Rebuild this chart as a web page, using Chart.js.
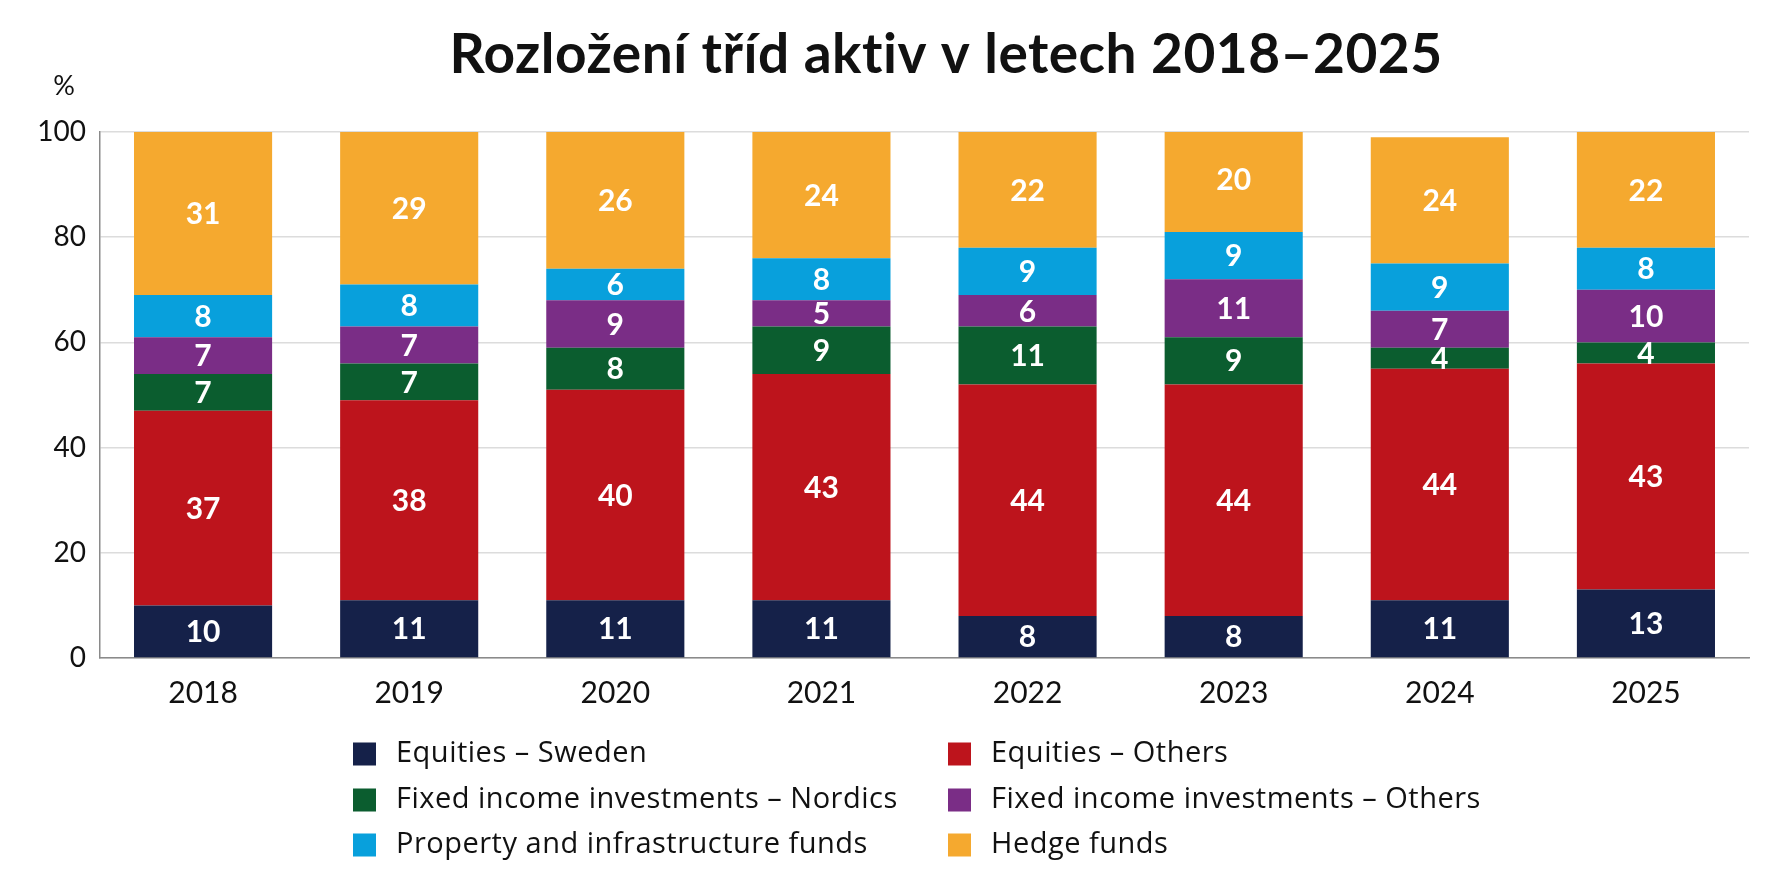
<!DOCTYPE html>
<html>
<head>
<meta charset="utf-8">
<script src="https://cdn.jsdelivr.net/npm/chart.js@4/dist/chart.umd.min.js"></script>
<style>
  html, body { margin: 0; padding: 0; background: #fff; }
  #wrap { width: 1774px; height: 887px; }
</style>
</head>
<body>
<div id="wrap"><canvas id="assets"></canvas></div>
<script>
var chartTitle = 'Rozložení tříd aktiv v letech 2018–2025';
var years = ['2018', '2019', '2020', '2021', '2022', '2023', '2024', '2025'];
var seriesNames = [
    'Equities – Sweden',
    'Equities – Others',
    'Fixed income investments – Nordics',
    'Fixed income investments – Others',
    'Property and infrastructure funds',
    'Hedge funds'
];
var equitiesSweden = [10, 11, 11, 11, 8, 8, 11, 13];
var equitiesOthers = [37, 38, 40, 43, 44, 44, 44, 43];
var fixedNordics = [7, 7, 8, 9, 11, 9, 4, 4];
var fixedOthers = [7, 7, 9, 5, 6, 11, 7, 10];
var propertyFunds = [8, 8, 6, 8, 9, 9, 9, 8];
var hedgeFunds = [31, 29, 26, 24, 22, 20, 24, 22];
var yTicks = [0, 20, 40, 60, 80, 100];

var colors = ['#152149', '#bd141c', '#0b5d2f', '#7a2d86', '#08a0dc', '#f5a92f'];
var values = [equitiesSweden, equitiesOthers, fixedNordics, fixedOthers, propertyFunds, hedgeFunds];
var FONT = 'Lato, "Open Sans", sans-serif';
var LEGEND_FONT = '"Open Sans", Lato, sans-serif';

var datasets = values.map(function (v, i) {
    return {
        label: seriesNames[i],
        data: v,
        backgroundColor: colors[i],
        borderWidth: 0,
        barPercentage: 0.67,
        categoryPercentage: 1.0
    };
});

// white numbers inside each segment
var segmentLabels = {
    id: 'segmentLabels',
    afterDatasetsDraw: function (chart) {
        var ctx = chart.ctx;
        ctx.save();
        ctx.fillStyle = '#ffffff';
        ctx.font = 'bold 30px ' + FONT;
        ctx.textAlign = 'center';
        ctx.textBaseline = 'middle';
        chart.data.datasets.forEach(function (ds, i) {
            var meta = chart.getDatasetMeta(i);
            meta.data.forEach(function (bar, j) {
                var p = bar.getCenterPoint();
                ctx.fillText(String(ds.data[j]), p.x, p.y + 1);
            });
        });
        ctx.restore();
    }
};

// title, "%" unit above the y axis and the two-column legend
var extras = {
    id: 'extras',
    afterDraw: function (chart) {
        var ctx = chart.ctx;
        ctx.save();
        ctx.fillStyle = '#111';
        ctx.textAlign = 'center';
        ctx.textBaseline = 'middle';
        ctx.font = 'bold 55px ' + FONT;
        ctx.letterSpacing = '0.5px';
        ctx.fillText(chartTitle, 946, 55);
        ctx.letterSpacing = '0px';

        ctx.font = '27px ' + FONT;
        ctx.fillText('%', 64, 86);

        var colX = [353, 948];
        var rowY = [754, 800, 845];
        ctx.textAlign = 'left';
        ctx.font = '29px ' + LEGEND_FONT;
        ctx.letterSpacing = '0.5px';
        chart.data.datasets.forEach(function (ds, i) {
            var x = colX[i % 2];
            var y = rowY[Math.floor(i / 2)];
            ctx.fillStyle = ds.backgroundColor;
            ctx.fillRect(x, y - 11.5, 23, 23);
            ctx.fillStyle = '#111';
            ctx.fillText(ds.label, x + 43, y);
        });
        ctx.restore();
    }
};

new Chart('assets', {
    type: 'bar',
    data: { labels: years, datasets: datasets },
    plugins: [segmentLabels, extras],
    options: {
        responsive: true,
        maintainAspectRatio: false,
        animation: false,
        layout: { padding: { left: 0, right: 25, top: 132, bottom: 177 } },
        plugins: {
            legend: { display: false },
            tooltip: { enabled: false },
            title: { display: false }
        },
        scales: {
            x: {
                stacked: true,
                grid: { display: false, drawTicks: false },
                border: { color: '#8a8a8a', width: 1.5 },
                ticks: { color: '#111', font: { family: FONT, size: 30 }, padding: 17 },
                afterFit: function (s) { s.height = 52; }
            },
            y: {
                stacked: true,
                min: 0,
                max: 100,
                afterBuildTicks: function (s) {
                    s.ticks = yTicks.map(function (v) { return { value: v }; });
                },
                grid: { color: '#dcdcdc', lineWidth: 1.5, drawTicks: false },
                border: { color: '#8a8a8a', width: 1.5 },
                ticks: { color: '#111', font: { family: FONT, size: 28 }, padding: 14 },
                afterFit: function (s) { s.width = 100; }
            }
        }
    }
});
</script>
</body>
</html>
